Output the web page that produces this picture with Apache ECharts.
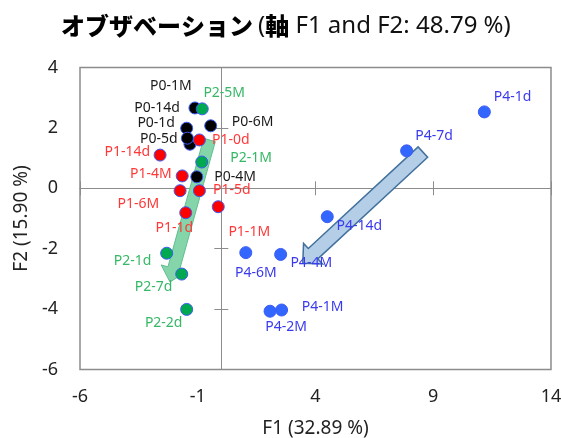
<!DOCTYPE html>
<html>
<head>
<meta charset="utf-8">
<script src="https://cdn.jsdelivr.net/npm/echarts@6/dist/echarts.min.js"></script>
<style>html,body{margin:0;padding:0;background:#fff;}#c{width:562px;height:438px;}</style>
</head>
<body>
<div id="c"></div>
<script>
// ---- data ----
const p0Names = ['P0-1M','P0-14d','P0-1d','P0-5d','P0-6M','P0-4M'];
const p0X = [-1.12,-1.33,-1.47,-1.44,-0.45,-1.04];
const p0Y = [2.66,1.46,1.99,1.66,2.07,0.38];

const p1Names = ['P1-0d','P1-14d','P1-4M','P1-6M','P1-5d','P1-1d','P1-1M'];
const p1X = [-0.93,-2.60,-1.66,-1.75,-0.93,-1.51,-0.13];
const p1Y = [1.60,1.10,0.41,-0.08,-0.08,-0.81,-0.61];

const p2Names = ['P2-5M','P2-1M','P2-1d','P2-7d','P2-2d'];
const p2X = [-0.81,-0.83,-2.32,-1.68,-1.47];
const p2Y = [2.63,0.87,-2.15,-2.84,-4.01];

const p4Names = ['P4-1d','P4-7d','P4-14d','P4-6M','P4-4M','P4-1M','P4-2M'];
const p4X = [11.17,7.87,4.50,1.04,2.52,2.56,2.07];
const p4Y = [2.53,1.24,-0.94,-2.13,-2.19,-4.03,-4.07];

const xTicks = [-6,-1,4,9,14];
const yTicks = [-6,-4,-2,0,2,4];

// arrows: [x1, y1, x2(tip), y2(tip)] in data units
const arrowGreen = [-0.50, 1.60, -2.18, -3.10];
const arrowBlue = [8.56, 1.20, 3.46, -2.48];

// ---- layout / style ----
const offP0 = [[-24,-22],[-33,-36],[-30.5,-5],[-28.5,1],[42,-4],[38.3,0]];
const offP1 = [[31.5,0],[-32.7,-3.3],[-31.3,-1.7],[-41.7,13.6],[32.4,-0.7],[-11.5,15],[31,25]];
const offP2 = [[22,-16.3],[49.3,-3.7],[-34.2,7.7],[-28.2,13.3],[-23,14]];
const offP4 = [[28.2,-14.7],[27.5,-15],[32,9],[10,20],[30.6,9],[41,-2.7],[16,16]];

const arrowStyles = [
  {shaft: 12, head: 26, headLen: 14, fill: '#84d6aa', stroke: '#62bd8e', lw: 1},
  {shaft: 14, head: 28, headLen: 14, fill: '#b5cee8', stroke: '#41719c', lw: 1.5}
];

const FONT = '"Noto Sans", "DejaVu Sans", sans-serif';

function mk(names, xs, ys, offs) {
  return names.map((n, i) => ({name: n, value: [xs[i], ys[i]], label: {offset: offs[i]}}));
}

function scatterSeries(data, fill, labelColor) {
  return {
    type: 'scatter',
    data: data,
    symbolSize: 12,
    z: 3,
    itemStyle: {color: fill, borderColor: '#3a5cf5', borderWidth: 1, opacity: 1},
    label: {
      show: true, position: 'inside', formatter: '{b}',
      color: labelColor, fontSize: 14, fontFamily: FONT,
      textBorderWidth: 0
    },
    emphasis: {disabled: true},
    silent: true
  };
}

const axisLineStyle = {color: '#8c8c8c', width: 1};
const baseX = {type: 'value', min: -6, max: 14, interval: 5, splitLine: {show: false}};
const baseY = {type: 'value', min: -6, max: 4, interval: 2, splitLine: {show: false}};

const chart = echarts.init(document.getElementById('c'), null, {renderer: 'canvas'});
chart.setOption({
  animation: false,
  backgroundColor: '#ffffff',
  title: {
    text: '{b|オブザベーション} {r|(}{b|軸}{r| F1 and F2: 48.79 %)}',
    left: 56, top: 9,
    textStyle: {
      rich: {
        b: {fontFamily: '"Noto Sans CJK JP", sans-serif', fontWeight: 900, fontSize: 24, color: '#000'},
        r: {fontFamily: FONT, fontWeight: 'normal', fontSize: 24, color: '#111'}
      }
    }
  },
  grid: {left: 80, top: 67.5, width: 471, height: 302, show: true, borderColor: '#8c8c8c', borderWidth: 1.5,
         backgroundColor: 'transparent', containLabel: false, outerBoundsMode: 'none'},
  xAxis: [
    Object.assign({}, baseX, {
      position: 'bottom',
      axisLine: {show: false, onZero: false},
      axisTick: {show: false},
      axisLabel: {show: true, margin: 18, fontSize: 18, color: '#222', fontFamily: FONT, customValues: xTicks},
      name: 'F1 (32.89 %)', nameLocation: 'middle', nameGap: 50,
      nameTextStyle: {fontSize: 19, color: '#222', fontFamily: FONT}
    }),
    Object.assign({}, baseX, {
      position: 'bottom',
      axisLine: {show: true, onZero: true, onZeroAxisIndex: 0, lineStyle: axisLineStyle},
      axisTick: {show: true, inside: true, length: 7, lineStyle: axisLineStyle, customValues: xTicks},
      axisLabel: {show: false}
    }),
    Object.assign({}, baseX, {
      position: 'bottom',
      axisLine: {show: true, onZero: true, onZeroAxisIndex: 0, lineStyle: axisLineStyle},
      axisTick: {show: true, inside: false, length: 7, lineStyle: axisLineStyle, customValues: xTicks},
      axisLabel: {show: false}
    })
  ],
  yAxis: [
    Object.assign({}, baseY, {
      position: 'left',
      axisLine: {show: false, onZero: false},
      axisTick: {show: false},
      axisLabel: {show: true, margin: 22, fontSize: 18, color: '#222', fontFamily: FONT, customValues: yTicks},
      name: 'F2 (15.90 %)', nameLocation: 'middle', nameGap: 44,
      nameTextStyle: {fontSize: 19, color: '#222', fontFamily: FONT}
    }),
    Object.assign({}, baseY, {
      position: 'left',
      axisLine: {show: true, onZero: true, onZeroAxisIndex: 0, lineStyle: axisLineStyle},
      axisTick: {show: true, inside: true, length: 7, lineStyle: axisLineStyle, customValues: yTicks},
      axisLabel: {show: false}
    }),
    Object.assign({}, baseY, {
      position: 'left',
      axisLine: {show: true, onZero: true, onZeroAxisIndex: 0, lineStyle: axisLineStyle},
      axisTick: {show: true, inside: false, length: 7, lineStyle: axisLineStyle, customValues: yTicks},
      axisLabel: {show: false}
    })
  ],
  series: [
    {
      type: 'custom',
      coordinateSystem: 'cartesian2d',
      xAxisIndex: 0, yAxisIndex: 0,
      z: 1,
      silent: true,
      encode: {x: [0, 2], y: [1, 3]},
      data: [arrowGreen, arrowBlue],
      renderItem: function (params, api) {
        const a = api.coord([api.value(0), api.value(1)]);
        const b = api.coord([api.value(2), api.value(3)]);
        const st = arrowStyles[params.dataIndex];
        const dx = b[0] - a[0], dy = b[1] - a[1];
        const L = Math.hypot(dx, dy);
        const ux = dx / L, uy = dy / L;
        const px = -uy, py = ux;
        const w = st.shaft / 2, hw = st.head / 2, hl = st.headLen;
        const bx = b[0] - ux * hl, by = b[1] - uy * hl;
        const pts = [
          [a[0] + px * w, a[1] + py * w],
          [bx + px * w, by + py * w],
          [bx + px * hw, by + py * hw],
          [b[0], b[1]],
          [bx - px * hw, by - py * hw],
          [bx - px * w, by - py * w],
          [a[0] - px * w, a[1] - py * w]
        ];
        return {type: 'polygon', shape: {points: pts}, style: {fill: st.fill, stroke: st.stroke, lineWidth: st.lw}};
      }
    },
    scatterSeries(mk(p0Names, p0X, p0Y, offP0), '#000000', '#1a1a1a'),
    scatterSeries(mk(p1Names, p1X, p1Y, offP1), '#ff0000', '#ff3838'),
    scatterSeries(mk(p2Names, p2X, p2Y, offP2), '#00a84f', '#35b866'),
    scatterSeries(mk(p4Names, p4X, p4Y, offP4), '#3366ff', '#3a3aee')
  ]
});
</script>
</body>
</html>
